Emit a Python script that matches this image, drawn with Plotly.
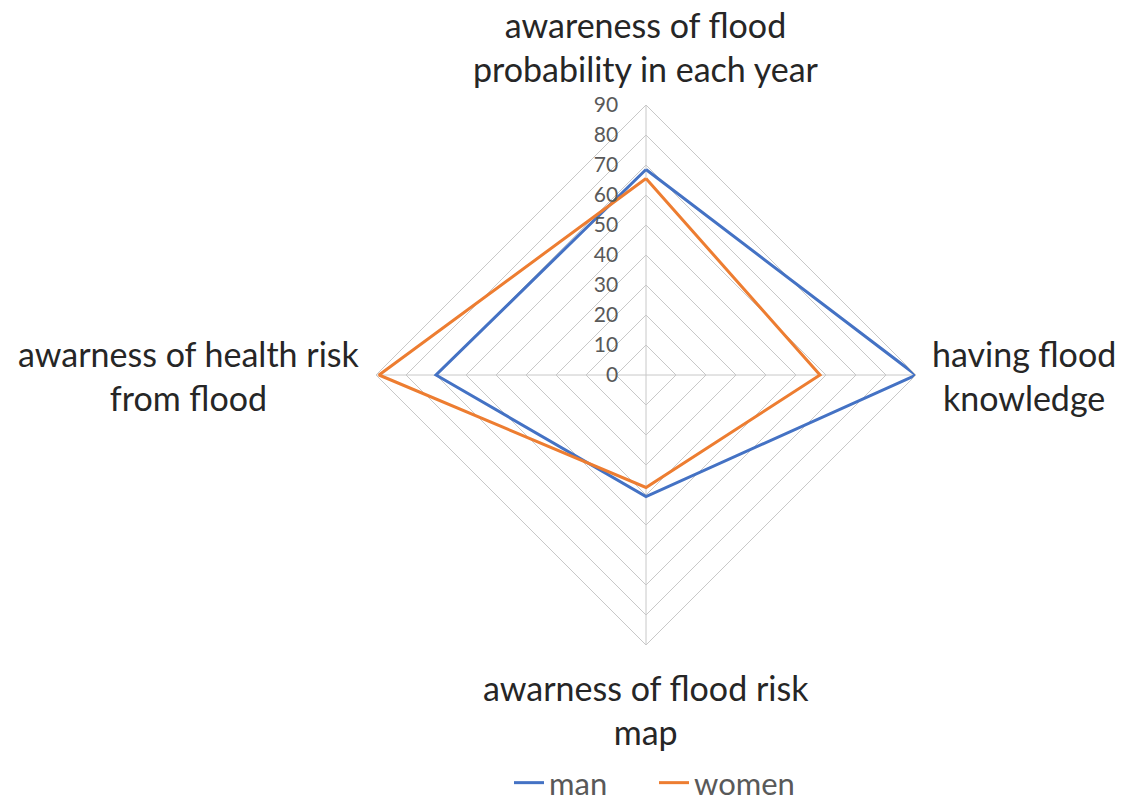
import plotly.graph_objects as go

# Survey axes (clockwise from the top)
categories = [
    "awareness of flood probability in each year",
    "having flood knowledge",
    "awarness of flood risk map",
    "awarness of health risk from flood",
]
# Wrapped versions used for the axis captions
captions = [
    "awareness of flood<br>probability in each year",
    "having flood<br>knowledge",
    "awarness of flood risk<br>map",
    "awarness of health risk<br>from flood",
]
man = [68.5, 90, 40.5, 70]
women = [65.5, 58, 37.5, 89]
radial_ticks = [0, 10, 20, 30, 40, 50, 60, 70, 80, 90]

FONT = "Lato"
GRID = "#C8C8C8"
W, H = 1122, 810

# Plot square (pixels): centre and radius of the radar
CX, CY, R = 646, 375, 270

fig = go.Figure()
for name, vals, color in [("man", man, "#4472C4"), ("women", women, "#ED7D31")]:
    fig.add_trace(go.Scatterpolar(
        r=vals + vals[:1],
        theta=categories + categories[:1],
        mode="lines",
        name=name,
        line=dict(color=color, width=3),
    ))

def px(x):
    return x / W

def py(y):
    return 1 - y / H

cap_font = dict(size=34, color="#262626", family=FONT)
gap = 14
anns = [
    dict(text=captions[0], x=px(CX), y=py(CY - R - gap), xanchor="center", yanchor="bottom"),
    dict(text=captions[1], x=px(CX + R + gap), y=py(CY), xanchor="left", yanchor="middle"),
    dict(text=captions[2], x=px(CX), y=py(CY + R + 20), xanchor="center", yanchor="top"),
    dict(text=captions[3], x=px(CX - R - gap), y=py(CY), xanchor="right", yanchor="middle"),
]
for a in anns:
    a.update(xref="paper", yref="paper", showarrow=False, align="center", font=cap_font)

fig.update_layout(
    width=W,
    height=H,
    margin=dict(l=0, r=0, t=0, b=0),
    paper_bgcolor="white",
    plot_bgcolor="white",
    font=dict(family=FONT, color="#404040"),
    annotations=anns,
    polar=dict(
        domain=dict(x=[px(CX - R), px(CX + R)], y=[py(CY + R), py(CY - R)]),
        gridshape="linear",
        bgcolor="white",
        radialaxis=dict(
            range=[0, 90],
            tickvals=radial_ticks,
            angle=90,
            side="counterclockwise",
            tickangle=90,
            showline=False,
            ticks="outside",
            ticklen=20,
            tickcolor="rgba(0,0,0,0)",
            gridcolor=GRID,
            gridwidth=1,
            tickfont=dict(size=21, color="#595959", family=FONT),
        ),
        angularaxis=dict(
            rotation=90,
            direction="clockwise",
            gridcolor=GRID,
            linecolor=GRID,
            showline=True,
            ticks="",
            showticklabels=False,
        ),
    ),
    legend=dict(
        orientation="h",
        x=px(CX + 8),
        xanchor="center",
        y=0,
        yanchor="bottom",
        entrywidth=100,
        font=dict(size=31, color="#595959", family=FONT),
    ),
)

fig.write_html("out.html")
